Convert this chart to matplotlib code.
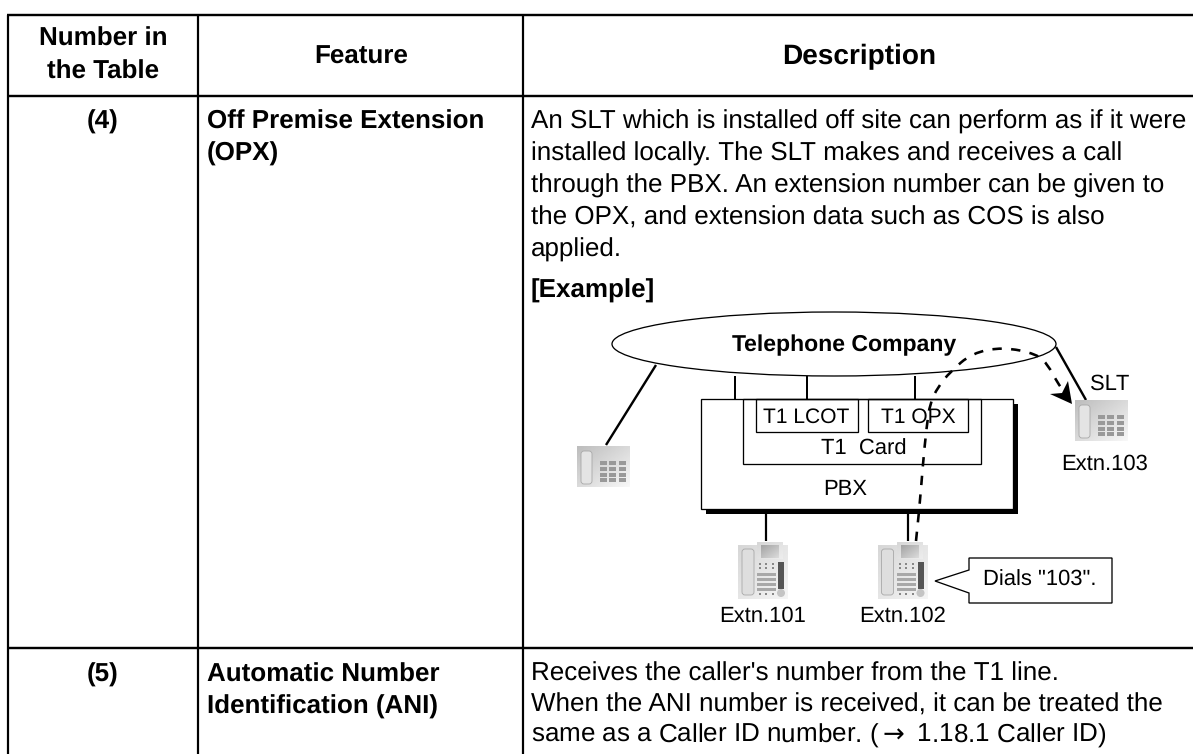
import matplotlib
matplotlib.use('Agg')
import matplotlib.pyplot as plt
import numpy as np
from matplotlib.patches import Ellipse, FancyBboxPatch, PathPatch, Polygon, Rectangle
from matplotlib.path import Path

plt.rcParams['font.family'] = ['Liberation Sans', 'DejaVu Sans']
plt.rcParams['text.hinting'] = 'no_hinting'
plt.rcParams['text.hinting_factor'] = 1

# table text
header_1 = ['Number in', 'the Table']
header_2 = 'Feature'
header_3 = 'Description'
row_numbers = ['(4)', '(5)']
feature_4 = ['Off Premise Extension', '(OPX)']
feature_5 = ['Automatic Number', 'Identification (ANI)']
desc_4 = ['An SLT which is installed off site can perform as if it were',
          'installed locally. The SLT makes and receives a call',
          'through the PBX. An extension number can be given to',
          'the OPX, and extension data such as COS is also',
          'applied.']
desc_5 = ["Receives the caller's number from the T1 line.",
          'When the ANI number is received, it can be treated the',
          r'same as a Caller ID number. ($\rightarrow$ 1.18.1 Caller ID)']

# diagram geometry, in pixels
col_lines = [8, 198, 523]
row_lines = [15, 96, 648]
trunk_x = [735, 806.5, 915]
dash_x = [916, 919.5, 923, 926.6, 930, 938, 950, 972, 1003, 1037, 1048, 1057, 1065]
dash_y = [541, 508, 463, 427, 403, 387, 372, 353, 347, 354, 365, 382, 393]

W, H = 1193, 754
BODY = 18.75
BOLD = 19.05
DIAG = 16.1
px = 0.72

fig = plt.figure(figsize=(W / 100, H / 100), dpi=100)
ax = fig.add_axes([0, 0, 1, 1])
ax.axis('off')


def line(xs, ys, lw=2.0, **kw):
    ax.plot(xs, ys, color='black', lw=lw * px, solid_capstyle='butt', **kw)


def box(x0, y0, x1, y1, lw=1.3, ec='black', fc='none', z=2):
    ax.add_patch(Rectangle((x0, y0), x1 - x0, y1 - y0, fc=fc, ec=ec, lw=lw * px, zorder=z))


def gradient(x0, y0, x1, y1, c0=0.70, c1=0.95, z=3):
    gx, gy = np.meshgrid(np.linspace(0, 1, 40), np.linspace(0, 1, 40))
    ax.imshow(c0 + (c1 - c0) * (gx + gy) / 2, cmap='gray', vmin=0, vmax=1,
              extent=(x0, x1, y1, y0), aspect='auto', zorder=z)


def small_phone(x, y):
    gradient(x, y, x + 53, y + 41, 0.74, 0.97)
    ax.add_patch(FancyBboxPatch((x + 5, y + 6), 9, 31, boxstyle='round,pad=1,rounding_size=3',
                                fc='#e4e4e4', ec='#a8a8a8', lw=0.6, zorder=4))
    for kx in [23, 32, 42]:
        for ky in [15, 21, 27, 32]:
            ax.add_patch(Rectangle((x + kx, y + ky), 6.5, 4.2, fc='#999999', ec='none', zorder=4))


def desk_phone(x, y):
    gradient(x, y + 4, x + 50, y + 58, 0.84, 0.96)
    gradient(x + 19, y + 1, x + 45, y + 18, 0.84, 0.93, z=4)
    gradient(x + 23, y + 4, x + 41, y + 17, 0.64, 0.86, z=5)
    ax.add_patch(FancyBboxPatch((x + 5, y + 9), 10, 44, boxstyle='round,pad=1,rounding_size=3',
                                fc='#dedede', ec='#a8a8a8', lw=0.6, zorder=4))
    ax.add_patch(Rectangle((x + 40, y + 21), 6, 27, fc='#555555', ec='none', zorder=4))
    for dx in [21, 27, 34]:
        for dy in [22, 26, 52]:
            ax.add_patch(Rectangle((x + dx, y + dy), 2, 2, fc='#888888', ec='none', zorder=4))
    for dy in [32, 37, 42, 47]:
        ax.add_patch(Rectangle((x + 19, y + dy), 19, 3, fc='#a8a8a8', ec='none', zorder=4))
    ax.add_patch(plt.Circle((x + 43, y + 52), 4, fc='#c4c4c4', ec='none', zorder=4))


# table rules
for y in row_lines:
    line([col_lines[0] - 1, W], [y, y], 2.4)
for x in col_lines:
    line([x, x], [row_lines[0], H], 2.2)

# table text, one line at a time
ax.text(103, 46, header_1[0], ha='center', fontsize=BOLD, fontweight='bold')
ax.text(103, 79, header_1[1], ha='center', fontsize=BOLD, fontweight='bold')
ax.text(361, 64, header_2, ha='center', fontsize=BOLD, fontweight='bold')
ax.text(859, 64, header_3, ha='center', fontsize=BOLD + 0.8, fontweight='bold')
ax.text(103, 129, row_numbers[0], ha='center', fontsize=BOLD, fontweight='bold')
ax.text(103, 682, row_numbers[1], ha='center', fontsize=BOLD, fontweight='bold')
for s, y in zip(feature_4, [129, 161]):
    ax.text(207, y, s, fontsize=BOLD, fontweight='bold')
for s, y in zip(feature_5, [682, 714]):
    ax.text(207, y, s, fontsize=BOLD, fontweight='bold')
for s, y in zip(desc_4, [129, 161, 193, 225, 257]):
    ax.text(531, y, s, fontsize=BODY)
ax.text(531, 298, '[Example]', fontsize=BOLD, fontweight='bold')
for s, y in zip(desc_5, [681, 712, 743]):
    ax.text(531, y, s, fontsize=BODY)

# diagram: ellipse and its lines
ax.add_patch(Ellipse((834, 344), 444, 64, fc='white', ec='black', lw=1.3 * px, zorder=2))
ax.text(844, 351, 'Telephone Company', ha='center', fontsize=DIAG + 0.6, fontweight='bold', zorder=6)
line([656, 606], [365, 445], 2.4)
line([1056, 1086], [347, 400], 2.4)
for x in trunk_x:
    line([x, x], [376, 399], 2.0)

# PBX with shadow and cards
ax.add_patch(Rectangle((706, 404), 312, 110, fc='black', ec='none', zorder=2))
box(701, 399, 1013, 509, fc='white', z=3)
box(743, 399, 981, 464, z=4)
box(756, 399, 858, 432, z=4)
box(868, 399, 968, 432, z=4)
ax.text(806.5, 423, 'T1 LCOT', ha='center', fontsize=DIAG - 0.8, zorder=6)
ax.text(918, 423, 'T1 OPX', ha='center', fontsize=DIAG - 0.8, zorder=6)
ax.text(864, 455, 'T1  Card', ha='center', fontsize=DIAG, zorder=6)
ax.text(845, 495, 'PBX', ha='center', fontsize=DIAG, zorder=6)

# extension lines
line([766, 766], [514, 541], 2.2)
line([907.6, 907.6], [514, 541], 2.2)

# dashed call route, smoothed through the read points
verts = [(dash_x[0], dash_y[0])]
codes = [Path.MOVETO]
for i in range(1, len(dash_x) - 1):
    verts.append((dash_x[i], dash_y[i]))
    verts.append(((dash_x[i] + dash_x[i + 1]) / 2, (dash_y[i] + dash_y[i + 1]) / 2))
    codes += [Path.CURVE3, Path.CURVE3]
ax.add_patch(PathPatch(Path(verts, codes), fc='none', ec='black', lw=2.6 * px,
                       linestyle=(0, (3.6, 3.6)), capstyle='butt', zorder=5))
ax.add_patch(Polygon([(1072, 404), (1050, 394), (1062, 393), (1068, 381)], fc='black', ec='none', zorder=6))

# phones
small_phone(577, 446)
small_phone(1075, 400)
desk_phone(738, 541)
desk_phone(877.5, 541)

ax.text(1110, 390, 'SLT', ha='center', fontsize=DIAG, zorder=6)
ax.text(1105, 470, 'Extn.103', ha='center', fontsize=DIAG, zorder=6)
ax.text(763, 622, 'Extn.101', ha='center', fontsize=DIAG, zorder=6)
ax.text(903, 622, 'Extn.102', ha='center', fontsize=DIAG, zorder=6)

# callout
ax.add_patch(Polygon([(969, 558), (1112, 558), (1112, 603), (969, 603), (969, 593), (935, 581), (969, 570)],
                     fc='white', ec='black', lw=1.3 * px, zorder=4))
ax.text(1040, 586, 'Dials "103".', ha='center', fontsize=DIAG, zorder=6)

ax.set_xlim(0, W)
ax.set_ylim(H, 0)
fig.savefig('out.png', dpi=100, facecolor='white')
